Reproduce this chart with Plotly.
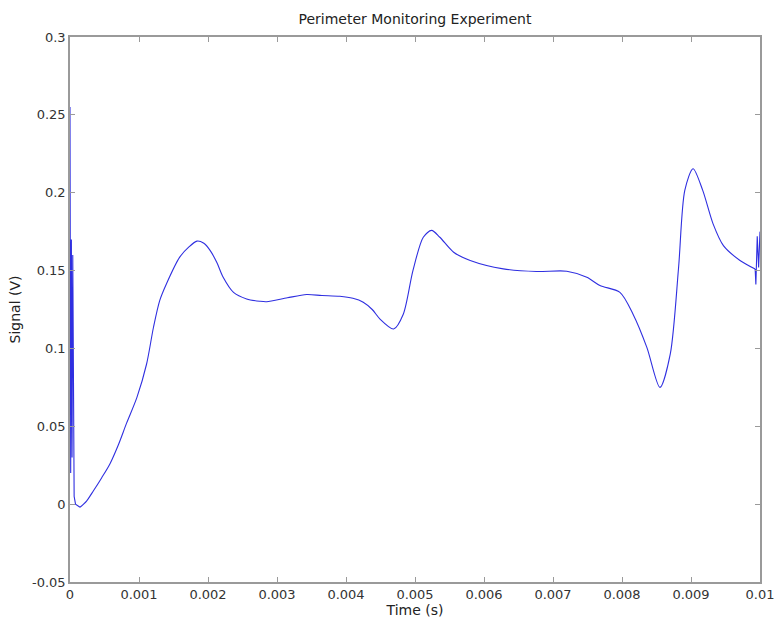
import plotly.graph_objects as go

time_s = [0.0, 0.00001, 0.00002, 0.00003, 0.00004, 0.00005, 0.00006, 0.00008,
          0.000145, 0.00024, 0.00034, 0.00046, 0.00058, 0.0007, 0.00082, 0.00097,
          0.00111, 0.00121, 0.0013, 0.0014, 0.00159, 0.00172, 0.00184, 0.00194,
          0.00203, 0.00213, 0.00222, 0.00237, 0.00256, 0.00275, 0.00285, 0.00315,
          0.00343, 0.00365, 0.00391, 0.0041, 0.00425, 0.00438, 0.00449, 0.00469, 0.00483, 0.00497,
          0.00512, 0.00524, 0.00536, 0.00556, 0.0058, 0.00628, 0.00676, 0.0072,
          0.00749, 0.00768, 0.00797, 0.00816, 0.00836, 0.00855, 0.0087, 0.00882,
          0.00891, 0.00903, 0.00917, 0.00932, 0.00947, 0.00971, 0.00993, 0.00994,
          0.00996, 0.00998, 0.01]
signal_v = [0.255, 0.02, 0.17, 0.03, 0.16, 0.022, 0.005, 0.0,
            -0.002, 0.002, 0.0086, 0.017, 0.026, 0.038, 0.052, 0.0686,
            0.090, 0.1136, 0.1307, 0.1417, 0.1586, 0.165, 0.1689, 0.1675,
            0.163, 0.155, 0.1457, 0.136, 0.1318, 0.1303, 0.1300, 0.1325,
            0.1346, 0.1340, 0.1335, 0.1322, 0.1297, 0.125, 0.119, 0.1125, 0.122, 0.150,
            0.1714, 0.1758, 0.1714, 0.1618, 0.1565, 0.1511, 0.1494, 0.1496,
            0.1457, 0.1404, 0.136, 0.122, 0.1007, 0.075, 0.0965, 0.152,
            0.2015, 0.2154, 0.2015, 0.180, 0.166, 0.1565, 0.151, 0.141,
            0.172, 0.152, 0.175]

x_ticks = [0, 0.001, 0.002, 0.003, 0.004, 0.005, 0.006, 0.007, 0.008, 0.009, 0.01]
x_labels = ["0", "0.001", "0.002", "0.003", "0.004", "0.005", "0.006", "0.007", "0.008", "0.009", "0.01"]
y_ticks = [-0.05, 0, 0.05, 0.1, 0.15, 0.2, 0.25, 0.3]
y_labels = ["-0.05", "0", "0.05", "0.1", "0.15", "0.2", "0.25", "0.3"]

LINE = dict(color="#2f2fe0", width=1.1)
start_end = 8      # index where the initial burst ends
tail_start = 64    # index where the final burst begins

fig = go.Figure()
fig.add_trace(go.Scatter(x=time_s[:start_end + 1], y=signal_v[:start_end + 1], mode="lines",
                         line=LINE, showlegend=False))
fig.add_trace(go.Scatter(x=time_s[start_end:tail_start + 1], y=signal_v[start_end:tail_start + 1],
                         mode="lines", line=dict(shape="spline", smoothing=0.8, **LINE), showlegend=False))
fig.add_trace(go.Scatter(x=time_s[tail_start:], y=signal_v[tail_start:], mode="lines",
                         line=LINE, showlegend=False))

FONT = "DejaVu Sans, Verdana, sans-serif"
axis_common = dict(showgrid=False, zeroline=False, showline=True, linecolor="#9a9a9a",
                   linewidth=1.5, mirror="ticks", ticks="inside", ticklen=5, automargin=False,
                   ticklabeloverflow="allow",
                   tickcolor="#9a9a9a", tickfont=dict(family=FONT, size=13, color="#333"))

fig.update_layout(
    width=774, height=622,
    margin=dict(l=70, r=14, t=37, b=40),
    paper_bgcolor="white", plot_bgcolor="white",
    title=dict(text="Perimeter Monitoring Experiment", x=0.5, xref="paper", y=0.969, yanchor="middle",
               automargin=False, font=dict(family=FONT, size=14, color="#222")),
    xaxis=dict(range=[0, 0.01], tickvals=x_ticks, ticktext=x_labels,
               title=dict(text="Time (s)", standoff=4, font=dict(family=FONT, size=14, color="#222")),
               **axis_common),
    yaxis=dict(range=[-0.05, 0.3], tickvals=y_ticks, ticktext=y_labels,
               title=dict(text="Signal (V)", standoff=8, font=dict(family=FONT, size=14, color="#222")),
               **axis_common),
)

# remove the default page margin / scrollbars so the figure fills the window exactly
fig.write_html("out.html", config={"displayModeBar": False},
               post_script="document.body.style.margin='0';document.body.style.overflow='hidden';")
